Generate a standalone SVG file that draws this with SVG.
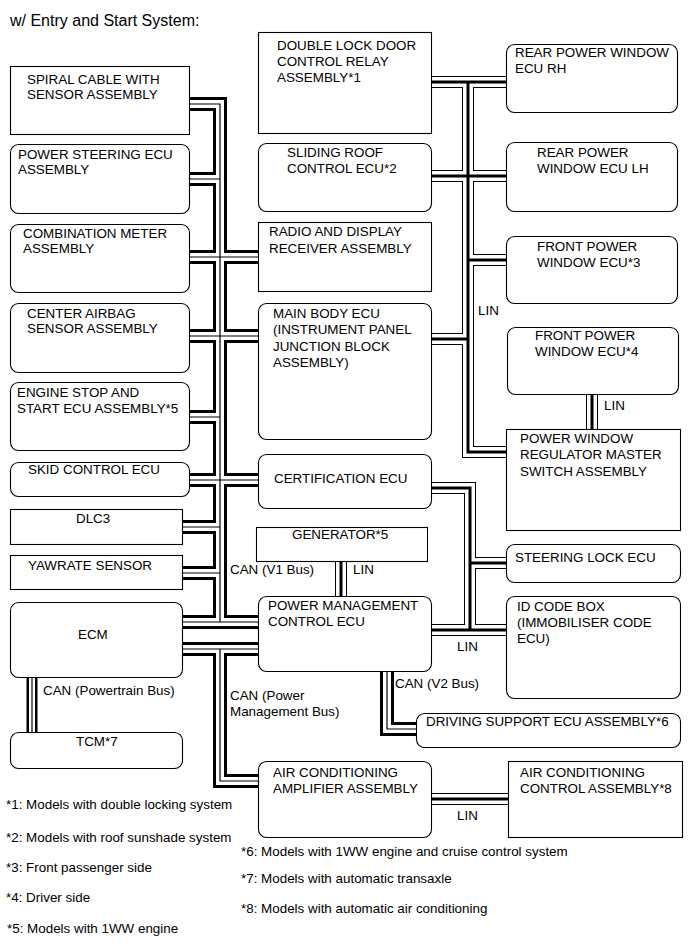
<svg xmlns="http://www.w3.org/2000/svg" width="690" height="951" viewBox="0 0 690 951">
<style>
.box{fill:#fff;stroke:#000;stroke-width:1.1}
.t{font-family:"Liberation Sans",Arial,sans-serif;font-size:13.4px;fill:#000}
.ti{font-family:"Liberation Sans",Arial,sans-serif;font-size:16px;fill:#000}
.ao{fill:none;stroke:#000;stroke-width:14;stroke-linejoin:miter}
.aw{fill:none;stroke:#fff;stroke-width:8;stroke-linejoin:miter}
.ac{fill:none;stroke:#000;stroke-width:1.2}
.lo{fill:none;stroke:#000;stroke-width:12;stroke-linejoin:miter}
.lw{fill:none;stroke:#fff;stroke-width:10;stroke-linejoin:miter}
.lc{fill:none;stroke:#000;stroke-width:3}
</style>
<rect width="690" height="951" fill="#fff"/>
<text class="ti" x="10" y="26">w/ Entry and Start System:</text>
<g id="connectors">
<defs>
<path id="v1" d="M189,104 H220 V622 M189,179 H220 M189,257 H258 M189,336 H258 M189,417 H220 M189,480 H258 M182,527 H220 M182,573 H220 M182,622 H258 M182,649 H258 M220,649 V781 H258 M387,671 V729 H416"/>
<path id="pt" d="M32,677 V732"/>
<path id="lin" d="M431,82 H506 M468,82 V452 H506 M431,176 H506 M468,260 H506 M431,339 H468 M431,488 H470 V630 M470,563 H506 M431,630 H506 M341,561 V596 M592,394 V429 M431,799 H508"/>
</defs>
<use href="#v1" class="ao"/><use href="#v1" class="aw"/><use href="#v1" class="ac"/>
<use href="#pt" class="ao" style="stroke-width:11"/><use href="#pt" class="aw" style="stroke-width:6"/><use href="#pt" class="ac"/>
<use href="#lin" class="lo"/><use href="#lin" class="lw"/><use href="#lin" class="lc"/>
<text class="t" x="43" y="695">CAN (Powertrain Bus)</text>
<text class="t" x="230" y="574">CAN (V1 Bus)</text>
<text class="t" x="353" y="574">LIN</text>
<text class="t" x="230" y="700">CAN (Power</text>
<text class="t" x="230" y="716">Management Bus)</text>
<text class="t" x="395" y="688">CAN (V2 Bus)</text>
<text class="t" x="457" y="651">LIN</text>
<text class="t" x="478" y="315">LIN</text>
<text class="t" x="604" y="410">LIN</text>
<text class="t" x="457" y="820">LIN</text>
</g>
<g id="spiral"><rect class="box" x="10.5" y="66.5" width="179" height="68"/><text class="t" x="27" y="84">SPIRAL CABLE WITH</text><text class="t" x="27" y="99">SENSOR ASSEMBLY</text></g>
<g id="psteer"><rect class="box" x="10.5" y="144.5" width="179" height="69" rx="8"/><text class="t" x="18" y="159">POWER STEERING ECU</text><text class="t" x="18" y="174">ASSEMBLY</text></g>
<g id="combo"><rect class="box" x="10.5" y="224.5" width="179" height="68" rx="8"/><text class="t" x="23" y="238">COMBINATION METER</text><text class="t" x="23" y="253">ASSEMBLY</text></g>
<g id="airbag"><rect class="box" x="10.5" y="303.5" width="179" height="69" rx="8"/><text class="t" x="27" y="318">CENTER AIRBAG</text><text class="t" x="27" y="333">SENSOR ASSEMBLY</text></g>
<g id="engine"><rect class="box" x="10.5" y="382.5" width="179" height="68" rx="8"/><text class="t" x="17" y="397">ENGINE STOP AND</text><text class="t" x="17" y="413">START ECU ASSEMBLY*5</text></g>
<g id="skid"><rect class="box" x="10.5" y="462.5" width="179" height="34" rx="8"/><text class="t" x="28" y="474">SKID CONTROL ECU</text></g>
<g id="dlc3"><rect class="box" x="10.5" y="509.5" width="172" height="35"/><text class="t" x="76" y="523">DLC3</text></g>
<g id="yaw"><rect class="box" x="10.5" y="555.5" width="172" height="34"/><text class="t" x="28" y="570">YAWRATE SENSOR</text></g>
<g id="ecm"><rect class="box" x="10.5" y="602.5" width="172" height="75" rx="8"/><text class="t" x="78" y="639">ECM</text></g>
<g id="tcm"><rect class="box" x="10.5" y="732.5" width="172" height="36" rx="8"/><text class="t" x="76" y="746">TCM*7</text></g>
<g id="dlock"><rect class="box" x="258.5" y="32.5" width="173" height="101"/><text class="t" x="277" y="50">DOUBLE LOCK DOOR</text><text class="t" x="277" y="66">CONTROL RELAY</text><text class="t" x="277" y="82">ASSEMBLY*1</text></g>
<g id="sroof"><rect class="box" x="258.5" y="143.5" width="173" height="68" rx="8"/><text class="t" x="287" y="157">SLIDING ROOF</text><text class="t" x="287" y="173">CONTROL ECU*2</text></g>
<g id="radio"><rect class="box" x="258.5" y="222.5" width="173" height="69"/><text class="t" x="269" y="236">RADIO AND DISPLAY</text><text class="t" x="269" y="253">RECEIVER ASSEMBLY</text></g>
<g id="mainbody"><rect class="box" x="258.5" y="303.5" width="173" height="136" rx="8"/><text class="t" x="273" y="318">MAIN BODY ECU</text><text class="t" x="273" y="334">(INSTRUMENT PANEL</text><text class="t" x="273" y="351">JUNCTION BLOCK</text><text class="t" x="273" y="367">ASSEMBLY)</text></g>
<g id="cert"><rect class="box" x="258.5" y="454.5" width="173" height="54" rx="8"/><text class="t" x="274" y="483">CERTIFICATION ECU</text></g>
<g id="gen"><rect class="box" x="256.5" y="527.5" width="171" height="34"/><text class="t" x="292" y="539">GENERATOR*5</text></g>
<g id="pm"><rect class="box" x="258.5" y="596.5" width="173" height="75" rx="8"/><text class="t" x="268" y="610">POWER MANAGEMENT</text><text class="t" x="268" y="626">CONTROL ECU</text></g>
<g id="acamp"><rect class="box" x="258.5" y="761.5" width="173" height="76" rx="8"/><text class="t" x="273" y="777">AIR CONDITIONING</text><text class="t" x="273" y="793">AMPLIFIER ASSEMBLY</text></g>
<g id="rrh"><rect class="box" x="506.5" y="44.5" width="171" height="68" rx="8"/><text class="t" x="515" y="57">REAR POWER WINDOW</text><text class="t" x="515" y="73">ECU RH</text></g>
<g id="rlh"><rect class="box" x="506.5" y="142.5" width="171" height="69" rx="8"/><text class="t" x="537" y="157">REAR POWER</text><text class="t" x="537" y="173">WINDOW ECU LH</text></g>
<g id="fpw3"><rect class="box" x="506.5" y="236.5" width="171" height="67" rx="8"/><text class="t" x="537" y="251">FRONT POWER</text><text class="t" x="537" y="267">WINDOW ECU*3</text></g>
<g id="fpw4"><rect class="box" x="507.5" y="327.5" width="171" height="67" rx="8"/><text class="t" x="535" y="340">FRONT POWER</text><text class="t" x="535" y="356">WINDOW ECU*4</text></g>
<g id="master"><rect class="box" x="506.5" y="429.5" width="174" height="101"/><text class="t" x="520" y="443">POWER WINDOW</text><text class="t" x="520" y="459">REGULATOR MASTER</text><text class="t" x="520" y="476">SWITCH ASSEMBLY</text></g>
<g id="slock"><rect class="box" x="506.5" y="544.5" width="174" height="38" rx="8"/><text class="t" x="515" y="562">STEERING LOCK ECU</text></g>
<g id="idcode"><rect class="box" x="506.5" y="596.5" width="174" height="102" rx="8"/><text class="t" x="517" y="611">ID CODE BOX</text><text class="t" x="517" y="627">(IMMOBILISER CODE</text><text class="t" x="517" y="643">ECU)</text></g>
<g id="drive"><rect class="box" x="416.5" y="713.5" width="264" height="34" rx="8"/><text class="t" x="426" y="726">DRIVING SUPPORT ECU ASSEMBLY*6</text></g>
<g id="accontrol"><rect class="box" x="508.5" y="761.5" width="174" height="76"/><text class="t" x="520" y="777">AIR CONDITIONING</text><text class="t" x="520" y="793">CONTROL ASSEMBLY*8</text></g>
<g id="notes">
<text class="t" x="6" y="809">*1: Models with double locking system</text>
<text class="t" x="6" y="842">*2: Models with roof sunshade system</text>
<text class="t" x="6" y="872">*3: Front passenger side</text>
<text class="t" x="6" y="902">*4: Driver side</text>
<text class="t" x="7" y="933">*5: Models with 1WW engine</text>
<text class="t" x="241" y="856">*6: Models with 1WW engine and cruise control system</text>
<text class="t" x="241" y="883">*7: Models with automatic transaxle</text>
<text class="t" x="241" y="913">*8: Models with automatic air conditioning</text>
</g>
</svg>
